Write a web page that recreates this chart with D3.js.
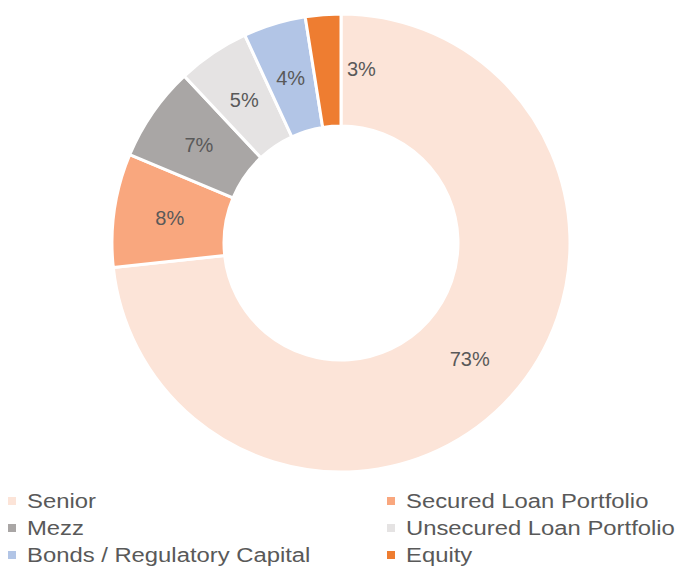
<!DOCTYPE html>
<html lang="en">
<head>
<meta charset="UTF-8">
<title>Capital structure</title>
<script src="https://d3js.org/d3.v7.min.js"></script>
<style>
  * { margin: 0; padding: 0; box-sizing: border-box; }
  body { background: #fff; width: 675px; height: 569px; overflow: hidden; }
  text { font-family: "Liberation Sans", Arial, sans-serif; }
</style>
</head>
<body>
<div id="chart"></div>
<script>
  // slice data (percent), clockwise from 12 o'clock
  const categories = ["Senior", "Secured Loan Portfolio", "Mezz", "Unsecured Loan Portfolio", "Bonds / Regulatory Capital", "Equity"];
  const values = [73.3, 8.0, 6.7, 5.1, 4.4, 2.5];
  const colors = ["#fce4d8", "#f9a77e", "#a9a6a5", "#e5e3e3", "#b2c5e6", "#ee7d31"];

  const width = 675, height = 569;
  const cx = 341, cy = 243;
  const outerR = 229, innerR = 117;

  const svg = d3.select("#chart").append("svg")
    .attr("width", width)
    .attr("height", height);

  const color = d3.scaleOrdinal().domain(categories).range(colors);

  const pie = d3.pie().value(d => d.value).sort(null);
  const data = categories.map((c, i) => ({ name: c, value: values[i] }));
  const arcs = pie(data);

  const arc = d3.arc().innerRadius(innerR).outerRadius(outerR);
  const midR = (innerR + outerR) / 2;
  const labelArc = d3.arc().innerRadius(midR).outerRadius(midR);

  const g = svg.append("g").attr("transform", `translate(${cx},${cy})`);

  g.selectAll("path")
    .data(arcs)
    .join("path")
    .attr("d", arc)
    .attr("fill", d => color(d.data.name))
    .attr("stroke", "#fff")
    .attr("stroke-width", 3)
    .attr("stroke-linejoin", "round");

  // the thin equity label gets pushed to the right like excel's best fit
  g.selectAll("text.lbl")
    .data(arcs)
    .join("text")
    .attr("class", "lbl")
    .attr("transform", d => {
      const [x, y] = labelArc.centroid(d);
      return d.data.name === "Equity" ? `translate(${x + 34},${y - 2})` : `translate(${x},${y})`;
    })
    .attr("text-anchor", "middle")
    .attr("dy", "0.36em")
    .style("font-size", "20px")
    .style("fill", "#595959")
    .text(d => Math.round(d.data.value) + "%");

  // legend, two columns
  const colX = [8, 387];
  const rowY = [508, 535, 562];
  const legend = svg.selectAll("g.leg")
    .data(categories)
    .join("g")
    .attr("class", "leg")
    .attr("transform", (d, i) => `translate(${colX[i % 2]},${rowY[Math.floor(i / 2)]})`);

  legend.append("rect")
    .attr("x", 0)
    .attr("y", -11)
    .attr("width", 8)
    .attr("height", 8)
    .attr("fill", d => color(d));

  legend.append("text")
    .attr("transform", "translate(19,0) scale(1.135,1)")
    .style("font-size", "21px")
    .style("fill", "#595959")
    .text(d => d);
</script>
</body>
</html>
